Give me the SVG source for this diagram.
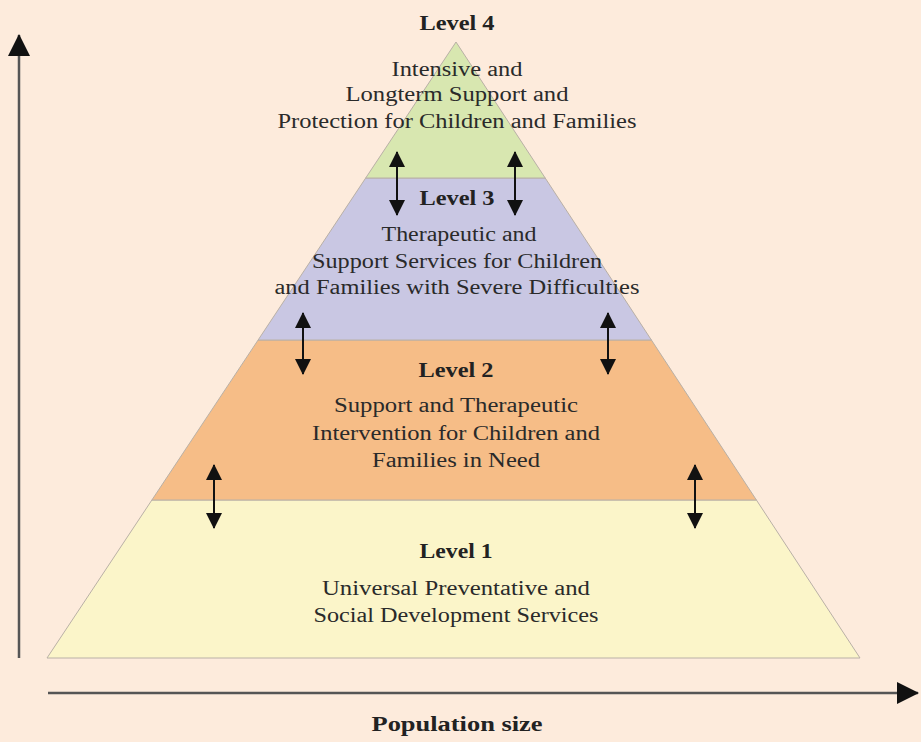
<svg xmlns="http://www.w3.org/2000/svg" width="921" height="742" viewBox="0 0 921 742">
  <defs>
    <marker id="ah" markerUnits="userSpaceOnUse" markerWidth="16" markerHeight="16" viewBox="0 0 16 16" refX="15" refY="8" orient="auto-start-reverse">
      <path d="M0,0 L16,8 L0,16 Z" fill="#111"/>
    </marker>
    <marker id="axh" markerUnits="userSpaceOnUse" markerWidth="22" markerHeight="22" viewBox="0 0 22 22" refX="21" refY="11" orient="auto">
      <path d="M0,0 L22,11 L0,22 Z" fill="#111"/>
    </marker>
    <style>
      .lvl { font-family: "Liberation Serif", "Times New Roman", serif; font-weight: bold; font-size: 20px; fill: #222; text-anchor: middle; }
      .txt { font-family: "Liberation Serif", "Times New Roman", serif; font-size: 20px; fill: #2a2a2a; text-anchor: middle; }
      .tier { stroke: #b9b0a6; stroke-width: 1; }
      .conn { stroke: #111; stroke-width: 2; fill: none; marker-start: url(#ah); marker-end: url(#ah); }
      .axis { stroke: #555; stroke-width: 2.5; fill: none; }
    </style>
  </defs>
  <rect width="921" height="742" fill="#fdebdc"/>

  <g id="level1">
    <polygon class="tier" points="151.9,500 756.4,500 860,658 47,658" fill="#fbf5c9"/>
    <text class="lvl" x="456" y="558" textLength="73" lengthAdjust="spacingAndGlyphs">Level 1</text>
    <text class="txt" x="456" y="595" textLength="268" lengthAdjust="spacingAndGlyphs">Universal Preventative and</text>
    <text class="txt" x="456" y="622" textLength="285" lengthAdjust="spacingAndGlyphs">Social Development Services</text>
  </g>

  <g id="level2">
    <polygon class="tier" points="258.1,340 651.4,340 756.4,500 151.9,500" fill="#f6bd87"/>
    <text class="lvl" x="456" y="377" textLength="75" lengthAdjust="spacingAndGlyphs">Level 2</text>
    <text class="txt" x="456" y="412" textLength="244" lengthAdjust="spacingAndGlyphs">Support and Therapeutic</text>
    <text class="txt" x="456" y="440" textLength="288" lengthAdjust="spacingAndGlyphs">Intervention for Children and</text>
    <text class="txt" x="456" y="467" textLength="168" lengthAdjust="spacingAndGlyphs">Families in Need</text>
  </g>

  <g id="level3">
    <polygon class="tier" points="365.7,178 545.2,178 651.4,340 258.1,340" fill="#c9c7e3"/>
    <text class="lvl" x="457" y="205" textLength="75" lengthAdjust="spacingAndGlyphs">Level 3</text>
    <text class="txt" x="459" y="241" textLength="155" lengthAdjust="spacingAndGlyphs">Therapeutic and</text>
    <text class="txt" x="457" y="268" textLength="290" lengthAdjust="spacingAndGlyphs">Support Services for Children</text>
    <text class="txt" x="457" y="294" textLength="365" lengthAdjust="spacingAndGlyphs">and Families with Severe Difficulties</text>
  </g>

  <g id="level4">
    <polygon class="tier" points="456,42 545.2,178 365.7,178" fill="#d8e7b0"/>
    <text class="lvl" x="457" y="30" textLength="75" lengthAdjust="spacingAndGlyphs">Level 4</text>
    <text class="txt" x="457" y="76" textLength="131" lengthAdjust="spacingAndGlyphs">Intensive and</text>
    <text class="txt" x="457" y="101" textLength="223" lengthAdjust="spacingAndGlyphs">Longterm Support and</text>
    <text class="txt" x="457" y="128" textLength="359" lengthAdjust="spacingAndGlyphs">Protection for Children and Families</text>
  </g>

  <g id="connectors">
    <line class="conn" x1="397" y1="152" x2="397" y2="215"/>
    <line class="conn" x1="515" y1="152" x2="515" y2="215"/>
    <line class="conn" x1="303" y1="313" x2="303" y2="374"/>
    <line class="conn" x1="608" y1="313" x2="608" y2="374"/>
    <line class="conn" x1="214" y1="465" x2="214" y2="528"/>
    <line class="conn" x1="695" y1="465" x2="695" y2="528"/>
  </g>

  <g id="axes">
    <line class="axis" x1="19" y1="658" x2="19" y2="35" marker-end="url(#axh)"/>
    <line class="axis" x1="48" y1="693" x2="918" y2="693" marker-end="url(#axh)"/>
    <text class="lvl" x="457" y="731" textLength="171" lengthAdjust="spacingAndGlyphs">Population size</text>
  </g>
</svg>
